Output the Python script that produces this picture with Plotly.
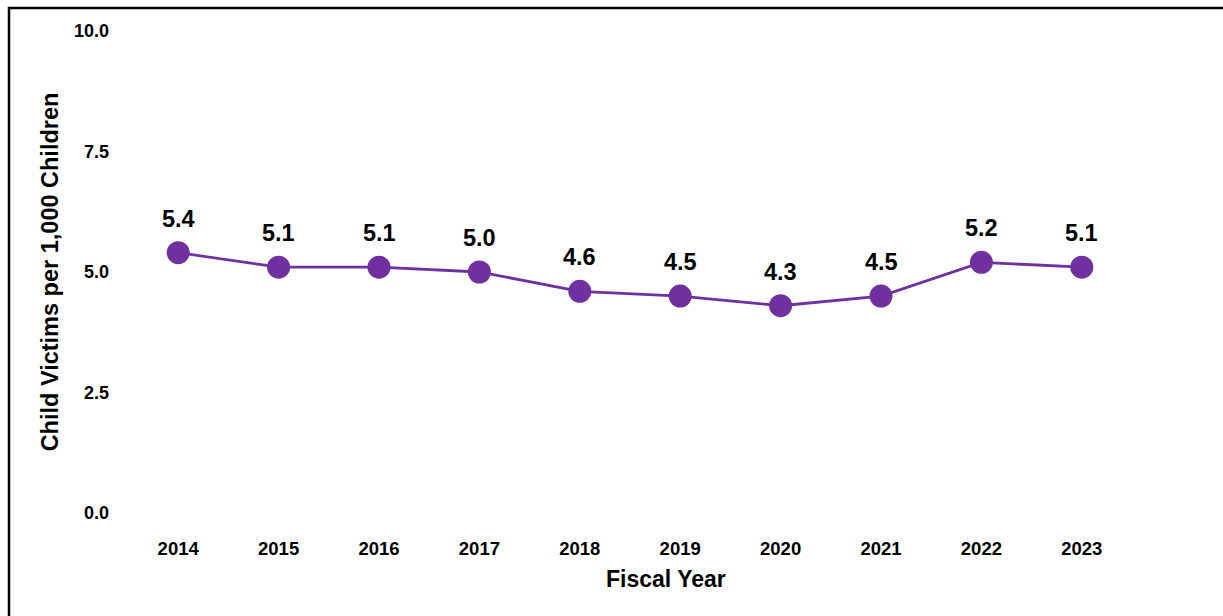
import plotly.graph_objects as go

# Fiscal years and national victimization rates
years = ["2014", "2015", "2016", "2017", "2018", "2019", "2020", "2021", "2022", "2023"]
rates = [5.4, 5.1, 5.1, 5.0, 4.6, 4.5, 4.3, 4.5, 5.2, 5.1]
y_ticks = [0.0, 2.5, 5.0, 7.5, 10.0]

PURPLE = "#7030A0"
FONT = "Liberation Sans, Arial, sans-serif"

W, H = 1223, 616
L, R, T, B = 128, 91, 31, 103
pw, ph = W - L - R, H - T - B

fig = go.Figure()
fig.add_trace(go.Scatter(
    x=years, y=rates, mode="lines+markers",
    line=dict(color=PURPLE, width=2.8),
    marker=dict(color=PURPLE, size=23),
    hoverinfo="x+y", showlegend=False,
))

# value labels above each point
for i, v in enumerate(rates):
    fig.add_annotation(x=i, y=v, xref="x", yref="y", text=f"<b>{v:.1f}</b>",
                       showarrow=False, yshift=34,
                       font=dict(family=FONT, size=23.5, color="black"))

def px_x(p):
    return (p - L) / pw

def px_y(p):
    return (H - B - p) / ph

# x-axis title, set slightly right of the plot centre
fig.add_annotation(xref="paper", yref="paper", x=px_x(666), y=px_y(579),
                   xanchor="center", yanchor="middle", showarrow=False,
                   text="<b>Fiscal Year</b>",
                   font=dict(family=FONT, size=23, color="black"))

# outer frame around the chart area
fig.add_shape(type="rect", xref="paper", yref="paper",
              x0=px_x(9), x1=px_x(1226), y0=px_y(8), y1=px_y(625),
              line=dict(color="black", width=2.5), fillcolor="rgba(0,0,0,0)")

fig.update_layout(
    width=W, height=H,
    margin=dict(l=L, r=R, t=T, b=B),
    paper_bgcolor="white", plot_bgcolor="white",
    font=dict(family=FONT, color="black"),
    xaxis=dict(
        type="category", range=[-0.5, 9.5], showgrid=False, zeroline=False,
        showline=False, ticks="", ticklabelstandoff=22,
        tickfont=dict(family=FONT, size=18.5, color="black", weight="bold"),
    ),
    yaxis=dict(
        range=[0, 10], tickvals=y_ticks, ticktext=[f"<b>{t:.1f}</b>" for t in y_ticks],
        showgrid=False, zeroline=False, showline=False, ticks="",
        ticklabelstandoff=18,
        tickfont=dict(family=FONT, size=18, color="black"),
        title=dict(text="<b>Child Victims per 1,000 Children</b>", standoff=8,
                   font=dict(family=FONT, size=23.5, color="black")),
    ),
)

fig.write_html("out.html")
